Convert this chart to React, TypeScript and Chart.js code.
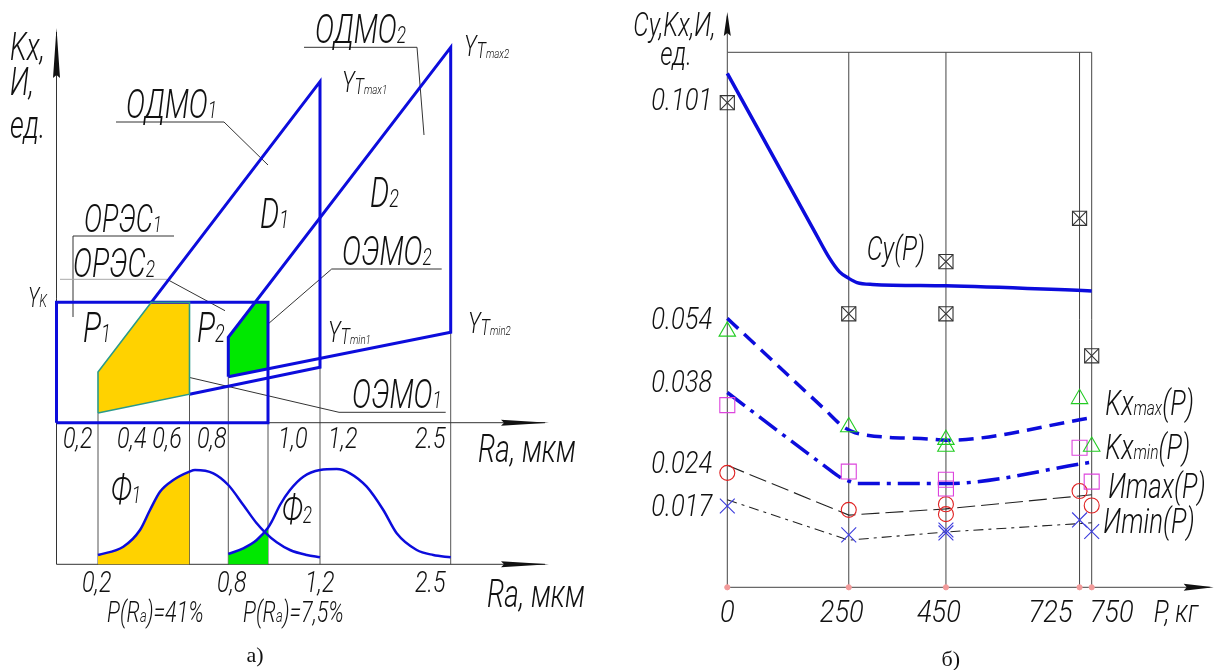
import React, { useEffect, useRef } from 'react';
import { Chart, registerables, LinearScale } from 'chart.js';

// ================= Panel a) : schematic of Kx / И against Ra =================
// x : position along the Ra axis (drawing units measured from the Kx axis)
// y : height above the upper Ra axis; yF : height of the density curves Ф
const RA_TICKS_TOP = ['0,2', '0,4 0,6', '0,8', '1,0', '1,2', '2.5'];
const RA_TICKS_TOP_X = [6.5, 60.5, 140.5, 221.5, 271.5, 358.5];
const RA_TICKS_BOTTOM = ['0,2', '0,8', '1,2', '2.5'];
const RA_TICKS_BOTTOM_X = [25.5, 160.5, 248.5, 358.5];
const RA_LINES_X = [41.5, 133, 171.8, 211.5, 263.5, 394.2];
const RA_LINES_TOP = [9.7, 28.5, 46, 0, 55.4, 90.4];
const AXIS_TOP = 394.7;
const AXIS_RIGHT = 492.5;

const BOX_X = [0, 0, 211.5, 211.5, 0];
const BOX_Y = [0, 120.4, 120.4, 0, 0];
const ODMO1_X = [94.8, 263.5, 263.5, 133];
const ODMO1_Y = [120.4, 341, 55.4, 28.5];
const P1_X = [41.5, 41.5, 94.8, 133, 133, 41.5];
const P1_Y = [9.7, 50.7, 120.4, 120.4, 28.5, 9.7];
const ODMO2_X = [171.8, 171.8, 394.2, 394.2, 171.8];
const ODMO2_Y = [46, 85.4, 375.4, 90.4, 46];
const P2_X = [171.8, 171.8, 198.6, 211.5, 211.5, 171.8];
const P2_Y = [46, 85.4, 120.4, 120.4, 53.9, 46];

const PHI1_X = [41.5, 66.8, 83.5, 93.5, 103.5, 116.8, 133, 138.5, 156.8, 171.8, 186.8, 200.2, 208.5, 220.2, 233.5, 250.2, 263.5];
const PHI1_Y = [9.3, 17.6, 34.3, 54.3, 72.6, 84.3, 92.7, 94.3, 91, 79.3, 59.3, 41, 32, 22, 14.3, 9.3, 7];
const PHI2_X = [171.8, 186.8, 200.2, 211.5, 215.2, 223.5, 233.5, 246.8, 263.5, 280.2, 293.5, 310.2, 326.8, 340.2, 360.2, 376.8, 394.2];
const PHI2_Y = [10.3, 16, 24.3, 36.5, 42.6, 59.3, 74.3, 87.6, 94.3, 95.3, 91, 77.6, 54.3, 31, 14.3, 9.3, 7];

// leader / underline lines [x1, y1, x2, y2, light?]
const LEADERS: number[][] = [
  [59.5, 300.7, 167.5, 300.7], [167.5, 300.7, 211.5, 257.7],
  [247.5, 375.4, 360.5, 375.4], [360.5, 375.4, 367.5, 287.7],
  [16.5, 186.7, 117.5, 186.7], [16.5, 186.7, 16.5, 105.7],
  [3.5, 143.4, 110.5, 143.4, 1], [110.5, 143.4, 168.5, 112],
  [275.2, 153.7, 385.2, 153.7], [275.2, 153.7, 196.5, 85.7],
  [282.5, 10.4, 389.2, 10.4], [282.5, 10.4, 109.5, 50.7],
];

type Part = [string, number, number?];
type Label = { x: number; y: number; size: number; parts: Part[]; sx?: number };

const LEFT_LABELS: Label[] = [
  { x: -46.5, y: 362.7, size: 38, parts: [['Kx,', 1]] },
  { x: -46.5, y: 327.7, size: 38, parts: [['И,', 1]] },
  { x: -46.5, y: 284.7, size: 38, parts: [['ед.', 1]] },
  { x: 69.5, y: 304.7, size: 40, parts: [['ОДМО', 1], ['1', 0.6]] },
  { x: 258.5, y: 379.7, size: 40, parts: [['ОДМО', 1], ['2', 0.6]] },
  { x: 285.5, y: 330.7, size: 30, parts: [['Y', 1], ['T', 0.75, 2], ['max1', 0.45, 2]] },
  { x: 407.5, y: 366.7, size: 30, parts: [['Y', 1], ['T', 0.75, 2], ['max2', 0.45, 2]] },
  { x: 203.5, y: 194.7, size: 42, parts: [['D', 1], ['1', 0.6]] },
  { x: 313.5, y: 215.7, size: 42, parts: [['D', 1], ['2', 0.6]] },
  { x: 27.5, y: 190.7, size: 38, parts: [['ОРЭС', 1], ['1', 0.6]] },
  { x: 16.5, y: 145.7, size: 40, parts: [['ОРЭС', 1], ['2', 0.6]] },
  { x: -28.5, y: 115.7, size: 27, parts: [['Y', 1], ['K', 0.65]] },
  { x: 26.5, y: 80.7, size: 42, parts: [['P', 1], ['1', 0.6]] },
  { x: 140.5, y: 80.7, size: 42, parts: [['P', 1], ['2', 0.6]] },
  { x: 271.5, y: 80.7, size: 30, parts: [['Y', 1], ['T', 0.75, 2], ['min1', 0.45, 2]] },
  { x: 411.5, y: 89.7, size: 30, parts: [['Y', 1], ['T', 0.75, 2], ['min2', 0.45, 2]] },
  { x: 285.5, y: 157.7, size: 40, parts: [['ОЭМО', 1], ['2', 0.6]] },
  { x: 295.5, y: 14.7, size: 40, parts: [['ОЭМО', 1], ['1', 0.6]] },
  { x: 421.5, y: -39.3, size: 39, parts: [['Ra, мкм', 1]] },
  { x: 430.5, y: -184.3, size: 39, parts: [['Ra, мкм', 1]] },
  { x: 54.5, y: -80.3, size: 40, parts: [['Ф', 1], ['1', 0.6]] },
  { x: 225.5, y: -100.3, size: 40, parts: [['Ф', 1], ['2', 0.6]] },
  { x: 50.5, y: -199.3, size: 30, parts: [['P(R', 1], ['a', 0.6], [')=41%', 1]] },
  { x: 186.5, y: -199.3, size: 30, parts: [['P(R', 1], ['a', 0.6], [')=7,5%', 1]] },
];

// ================= Panel б) : Cy, Kx, И against P =================
const P_TICKS = [0, 250, 450, 725, 750];
const P_TICK_SHIFT = [0, -7, -7, -29, 20];
const Y_TICKS = [0.017, 0.024, 0.038, 0.054, 0.101];
const Y_TICK_LABELS = ['0.017', '0.024', '0.038', '0.054', '0.101'];
const Y_KNOTS = [0, 0.017, 0.024, 0.038, 0.054, 0.101, 0.111];
const Y_KNOT_POS = [0, 0.1529, 0.2351, 0.3856, 0.5034, 0.9127, 1];

const CY_P = [0, 180, 210, 231, 250, 267, 299, 450, 750];
const CY = [0.1065, 0.0725, 0.0669, 0.0639, 0.0625, 0.0616, 0.0612, 0.0609, 0.0598];
const KXMAX_P = [0, 200, 238, 255, 273, 417, 450, 750];
const KXMAX = [0.0539, 0.0331, 0.0301, 0.0293, 0.0288, 0.0279, 0.0277, 0.0316];
const KXMIN_P = [0, 200, 232, 250, 266, 450, 750];
const KXMIN = [0.036, 0.0233, 0.0215, 0.0209, 0.0205, 0.0205, 0.0239];
const IMAX_P = [0, 250, 450, 750];
const IMAX = [0.0234, 0.015, 0.0163, 0.0187];
const IMIN_P = [0, 250, 450, 750];
const IMIN = [0.0179, 0.0098, 0.0115, 0.0134];

const MARK_P = [0, 250, 450, 450, 725, 750];
const CY_MARKS = [0.1002, 0.0549, 0.0661, 0.0549, 0.0754, 0.0444];
const KXMAX_MARKS = [0.0506, 0.03, 0.0278, 0.0266, 0.0349, 0.0266];
const KXMIN_MARKS = [0.0338, 0.0224, 0.0211, 0.0197, 0.0264, 0.0208];
const IMAX_MARKS = [0.0222, 0.0161, 0.0172, 0.0152, 0.0193, 0.017];
const IMIN_MARKS = [0.0169, 0.0109, 0.0119, 0.0113, 0.014, 0.0116];

const RIGHT_LABELS: Label[] = [
  { x: 287, y: 0.0664, size: 34, parts: [['Cy(P)', 1]] },
  { x: 778, y: 0.0321, size: 35, parts: [['Kx', 1], ['max', 0.6], ['(P)', 1]] },
  { x: 778, y: 0.0244, size: 35, parts: [['Kx', 1], ['min', 0.6], ['(P)', 1]] },
  { x: 784, y: 0.0182, size: 35, parts: [['Иmax(P)', 1]] },
  { x: 774, y: 0.0113, size: 35, parts: [['Иmin(P)', 1]] },
];

// ---------- piecewise (schematic) value axis ----------
class PiecewiseScale extends LinearScale {
  static id = 'piecewise';
  static defaults = {};
  getPixelForValue(value: any) {
    if (value === null || value === undefined || Number.isNaN(value)) return NaN;
    let i = 0;
    while (i < Y_KNOTS.length - 2 && value > Y_KNOTS[i + 1]) i++;
    const t = (value - Y_KNOTS[i]) / (Y_KNOTS[i + 1] - Y_KNOTS[i]);
    return (this as any).getPixelForDecimal(Y_KNOT_POS[i] + t * (Y_KNOT_POS[i + 1] - Y_KNOT_POS[i]));
  }
  getValueForPixel(pixel: number) {
    const d = (this as any).getDecimalForPixel(pixel);
    let i = 0;
    while (i < Y_KNOT_POS.length - 2 && d > Y_KNOT_POS[i + 1]) i++;
    const t = (d - Y_KNOT_POS[i]) / (Y_KNOT_POS[i + 1] - Y_KNOT_POS[i]);
    return Y_KNOTS[i] + t * (Y_KNOTS[i + 1] - Y_KNOTS[i]);
  }
}

Chart.register(...registerables, PiecewiseScale as any);

const BLUE = '#0c0cdc';
const YELLOW = '#ffd200';
const GREEN = '#00e800';
const NONE = 'rgba(0,0,0,0)';
const FONT = '"Roboto", "DejaVu Sans", sans-serif';
const SX = 0.72;

const pts = (xs: number[], ys: number[]) => xs.map((x, i) => ({ x, y: ys[i] }));

function drawParts(ctx: CanvasRenderingContext2D, parts: Part[], x: number, y: number, size: number,
  align: 'left' | 'center' | 'right' = 'left', sx = SX, color = '#111') {
  ctx.save();
  ctx.fillStyle = color;
  ctx.textBaseline = 'alphabetic';
  ctx.textAlign = 'left';
  const fonts = parts.map(([, s]) => `italic 300 ${(size * s).toFixed(1)}px ${FONT}`);
  const widths = parts.map(([t], i) => { ctx.font = fonts[i]; return ctx.measureText(t).width * sx; });
  const total = widths.reduce((a, b) => a + b, 0);
  let cx = align === 'left' ? x : align === 'right' ? x - total : x - total / 2;
  parts.forEach(([t, , dy], i) => {
    ctx.font = fonts[i];
    ctx.save();
    ctx.translate(cx, y + (dy || 0));
    ctx.scale(sx, 1);
    ctx.fillText(t, 0, 0);
    ctx.restore();
    cx += widths[i];
  });
  ctx.restore();
}

function seg(ctx: CanvasRenderingContext2D, x1: number, y1: number, x2: number, y2: number) {
  ctx.beginPath();
  ctx.moveTo(x1, y1);
  ctx.lineTo(x2, y2);
  ctx.stroke();
}

function arrowUp(ctx: CanvasRenderingContext2D, x: number, tip: number, len: number, hw: number) {
  ctx.beginPath();
  ctx.moveTo(x, tip);
  ctx.lineTo(x + hw, tip + len);
  ctx.lineTo(x, tip + len - 3);
  ctx.lineTo(x - hw, tip + len);
  ctx.closePath();
  ctx.fill();
}

function arrowRight(ctx: CanvasRenderingContext2D, tip: number, y: number, len: number, hw: number) {
  ctx.beginPath();
  ctx.moveTo(tip, y);
  ctx.lineTo(tip - len, y - hw);
  ctx.lineTo(tip - len + 3, y);
  ctx.lineTo(tip - len, y + hw);
  ctx.closePath();
  ctx.fill();
}

const leftDecor = {
  id: 'leftDecor',
  beforeDatasetsDraw(chart: any) {
    const { ctx } = chart;
    const X = (v: number) => chart.scales.x.getPixelForValue(v);
    const Y = (v: number) => chart.scales.y.getPixelForValue(v);
    const F = (v: number) => chart.scales.yF.getPixelForValue(v);
    ctx.save();
    ctx.lineWidth = 1;
    ctx.strokeStyle = '#555';
    RA_LINES_X.forEach((x, i) => seg(ctx, X(x), F(0), X(x), Y(RA_LINES_TOP[i])));
    ctx.strokeStyle = '#333';
    seg(ctx, X(0), F(0), X(0), Y(AXIS_TOP) + 4);
    seg(ctx, X(0), Y(0), X(AXIS_RIGHT) - 4, Y(0));
    seg(ctx, X(0), F(0), X(AXIS_RIGHT) - 4, F(0));
    ctx.fillStyle = '#111';
    arrowUp(ctx, X(0), Y(AXIS_TOP), 50, 3.5);
    arrowRight(ctx, X(AXIS_RIGHT), Y(0), 48, 3);
    arrowRight(ctx, X(AXIS_RIGHT), F(0), 48, 3);
    LEADERS.forEach(([x1, y1, x2, y2, light]) => {
      ctx.strokeStyle = light ? '#a8a8a8' : '#333';
      seg(ctx, X(x1), Y(y1), X(x2), Y(y2));
    });
    ctx.restore();
  },
  afterDatasetsDraw(chart: any) {
    const { ctx } = chart;
    const X = (v: number) => chart.scales.x.getPixelForValue(v);
    const Y = (v: number) => chart.scales.y.getPixelForValue(v);
    LEFT_LABELS.forEach((l) => drawParts(ctx, l.parts, X(l.x), Y(l.y), l.size, 'left', l.sx ?? SX));
    RA_TICKS_TOP.forEach((t, i) => drawParts(ctx, [[t, 1]], X(RA_TICKS_TOP_X[i]), Y(-25.3), 30, 'left', 0.78));
    RA_TICKS_BOTTOM.forEach((t, i) => drawParts(ctx, [[t, 1]], X(RA_TICKS_BOTTOM_X[i]), Y(-169.3), 30, 'left', 0.78));
    ctx.save();
    ctx.fillStyle = '#111';
    ctx.font = '22px "Liberation Serif", "DejaVu Serif", serif';
    ctx.textAlign = 'center';
    ctx.fillText('а)', X(198.5), Y(-239.3));
    ctx.restore();
  },
};

const rightDecor = {
  id: 'rightDecor',
  beforeDatasetsDraw(chart: any) {
    const { ctx, chartArea: a } = chart;
    const X = (v: number) => chart.scales.x.getPixelForValue(v);
    ctx.save();
    ctx.lineWidth = 1;
    ctx.strokeStyle = '#444';
    P_TICKS.forEach((p) => seg(ctx, X(p), a.bottom, X(p), a.top));
    seg(ctx, a.left, a.top, X(750), a.top);
    seg(ctx, a.left, a.top, a.left, a.top - 36);
    seg(ctx, a.left, a.bottom, a.right + 118, a.bottom);
    ctx.fillStyle = '#111';
    arrowUp(ctx, a.left, a.top - 40.3, 24, 3.5);
    arrowRight(ctx, a.right + 122, a.bottom, 30, 3.5);
    ctx.restore();
  },
  afterDatasetsDraw(chart: any) {
    const { ctx, chartArea: a } = chart;
    const X = (v: number) => chart.scales.x.getPixelForValue(v);
    const Y = (v: number) => chart.scales.y.getPixelForValue(v);
    Y_TICKS.forEach((v, i) => drawParts(ctx, [[Y_TICK_LABELS[i], 1]], a.left - 15, Y(v) + 11, 32, 'right', 0.8));
    P_TICKS.forEach((p, i) => drawParts(ctx, [[String(p), 1]], X(p) + P_TICK_SHIFT[i], a.bottom + 35, 31, 'center', 0.88));
    drawParts(ctx, [['P, кг', 1]], a.right + 62, a.bottom + 35, 32, 'left', 0.78);
    drawParts(ctx, [['Cy,Kx,И,', 1]], a.left - 94, a.top - 16, 33, 'left', 0.74);
    drawParts(ctx, [['ед.', 1]], a.left - 67, a.top + 13, 33, 'left', 0.74);
    RIGHT_LABELS.forEach((l) => drawParts(ctx, l.parts, X(l.x), Y(l.y), l.size, 'left', 0.74));
    ctx.save();
    ctx.fillStyle = '#111';
    ctx.font = '22px "Liberation Serif", "DejaVu Serif", serif';
    ctx.textAlign = 'center';
    ctx.fillText('б)', X(460), a.bottom + 79);
    ctx.restore();
  },
};

const baseOptions = {
  animation: false as const,
  responsive: false,
  maintainAspectRatio: false,
  events: [] as any[],
  plugins: { legend: { display: false }, tooltip: { enabled: false } },
  elements: { point: { radius: 0, hoverRadius: 0 }, line: { tension: 0 } },
};

export default function App() {
  const leftRef = useRef<HTMLCanvasElement>(null);
  const rightRef = useRef<HTMLCanvasElement>(null);

  useEffect(() => {
    const phi1Area = pts(PHI1_X, PHI1_Y).filter((p) => p.x <= 133);
    const phi2Area = pts(PHI2_X, PHI2_Y).filter((p) => p.x <= 211.5);
    const line = (data: any[], extra: any = {}) => ({
      data, borderColor: BLUE, borderWidth: 3, pointRadius: 0, fill: false, clip: false, ...extra,
    });

    const left = new Chart(leftRef.current as HTMLCanvasElement, {
      type: 'line',
      data: {
        datasets: [
          line(pts(P1_X.slice(1, 4), P1_Y.slice(1, 4)), { label: 'P1 top', fill: '+1', backgroundColor: YELLOW, borderColor: NONE, order: 6 }),
          line([0, 4].map((i) => ({ x: P1_X[i], y: P1_Y[i] })), { label: 'P1 bottom', borderColor: NONE, order: 6 }),
          line(pts(P2_X.slice(1, 4), P2_Y.slice(1, 4)), { label: 'P2 top', fill: '+1', backgroundColor: GREEN, borderColor: NONE, order: 6 }),
          line([0, 4].map((i) => ({ x: P2_X[i], y: P2_Y[i] })), { label: 'P2 bottom', borderColor: NONE, order: 6 }),
          line(phi1Area, { label: 'Ф1 area', yAxisID: 'yF', fill: 'origin', backgroundColor: YELLOW, borderColor: NONE, cubicInterpolationMode: 'monotone', order: 6 }),
          line(phi2Area, { label: 'Ф2 area', yAxisID: 'yF', fill: 'origin', backgroundColor: GREEN, borderColor: NONE, cubicInterpolationMode: 'monotone', order: 6 }),
          line(pts(BOX_X, BOX_Y), { label: 'Yk box', order: 3 }),
          line(pts(ODMO2_X, ODMO2_Y), { label: 'ОДМО2', order: 2 }),
          line(pts(ODMO1_X, ODMO1_Y), { label: 'ОДМО1', order: 2 }),
          line(pts(P1_X, P1_Y), { label: 'ОРЭС1', borderColor: '#2a9a8a', borderWidth: 1.6, order: 1 }),
          line(pts(PHI1_X, PHI1_Y), { label: 'Ф1', yAxisID: 'yF', borderWidth: 2.5, cubicInterpolationMode: 'monotone', order: 1 }),
          line(pts(PHI2_X, PHI2_Y), { label: 'Ф2', yAxisID: 'yF', borderWidth: 2.5, cubicInterpolationMode: 'monotone', order: 1 }),
        ],
      },
      options: {
        ...baseOptions,
        layout: { padding: 0 },
        scales: {
          x: { type: 'linear', display: false, min: -56.5, max: 553.5 },
          y: { type: 'linear', display: false, min: -247.3, max: 422.7 },
          yF: { type: 'linear', display: false, min: -105.7, max: 564.3 },
        },
      } as any,
      plugins: [leftDecor],
    });

    const marks = (ys: number[], style: string, color: string, radius: number, extra: any = {}) => ({
      data: pts(MARK_P, ys), showLine: false, pointStyle: style, pointRadius: radius, pointHoverRadius: radius,
      pointBorderColor: color, pointBackgroundColor: NONE, pointBorderWidth: 1.1, borderColor: color, clip: false, order: 0, ...extra,
    });
    const curve = (xs: number[], ys: number[], extra: any) => ({
      data: pts(xs, ys), borderColor: BLUE, borderWidth: 3.5, pointRadius: 0, fill: false, clip: false, order: 1, ...extra,
    });

    const right = new Chart(rightRef.current as HTMLCanvasElement, {
      type: 'line',
      data: {
        datasets: [
          curve(CY_P, CY, { label: 'Cy(P)', cubicInterpolationMode: 'monotone' }),
          curve(KXMAX_P, KXMAX, { label: 'Kxmax(P)', borderDash: [15, 8], cubicInterpolationMode: 'monotone' }),
          curve(KXMIN_P, KXMIN, { label: 'Kxmin(P)', borderDash: [22, 7, 4, 7], cubicInterpolationMode: 'monotone' }),
          curve(IMAX_P, IMAX, { label: 'Иmax(P)', borderColor: '#222', borderWidth: 1.1, borderDash: [18, 6] }),
          curve(IMIN_P, IMIN, { label: 'Иmin(P)', borderColor: '#222', borderWidth: 1.1, borderDash: [10, 5, 3, 5] }),
          marks(CY_MARKS, 'rect', '#333', 10),
          marks(CY_MARKS, 'crossRot', '#333', 10),
          marks(KXMAX_MARKS, 'triangle', '#22cc22', 9.5),
          marks(KXMIN_MARKS, 'rect', '#dd44dd', 10.6),
          marks(IMAX_MARKS, 'circle', '#e02222', 7.5),
          marks(IMIN_MARKS, 'crossRot', '#3b3bdd', 10.5),
          {
            data: P_TICKS.map((p) => ({ x: p, y: 0 })), showLine: false, pointStyle: 'circle', pointRadius: 2.6,
            pointBackgroundColor: '#f29a9a', pointBorderColor: '#f29a9a', clip: false, order: 0,
          },
        ],
      },
      options: {
        ...baseOptions,
        layout: { padding: { left: 117.3, right: 127.3, top: 52.3, bottom: 82.7 } },
        scales: {
          x: { type: 'linear', display: false, min: 0, max: 750 },
          y: { type: 'piecewise', display: false, min: 0, max: 0.111 },
        },
      } as any,
      plugins: [rightDecor],
    });

    return () => {
      left.destroy();
      right.destroy();
    };
  }, []);

  return (
    <div style={{ position: 'absolute', left: 0, top: 0, width: 1219, height: 670, background: '#fff', overflow: 'hidden' }}>
      <canvas ref={leftRef} width={610} height={670} style={{ position: 'absolute', left: 0, top: 0, width: 610, height: 670 }} />
      <canvas ref={rightRef} width={609} height={670} style={{ position: 'absolute', left: 610, top: 0, width: 609, height: 670 }} />
    </div>
  );
}
